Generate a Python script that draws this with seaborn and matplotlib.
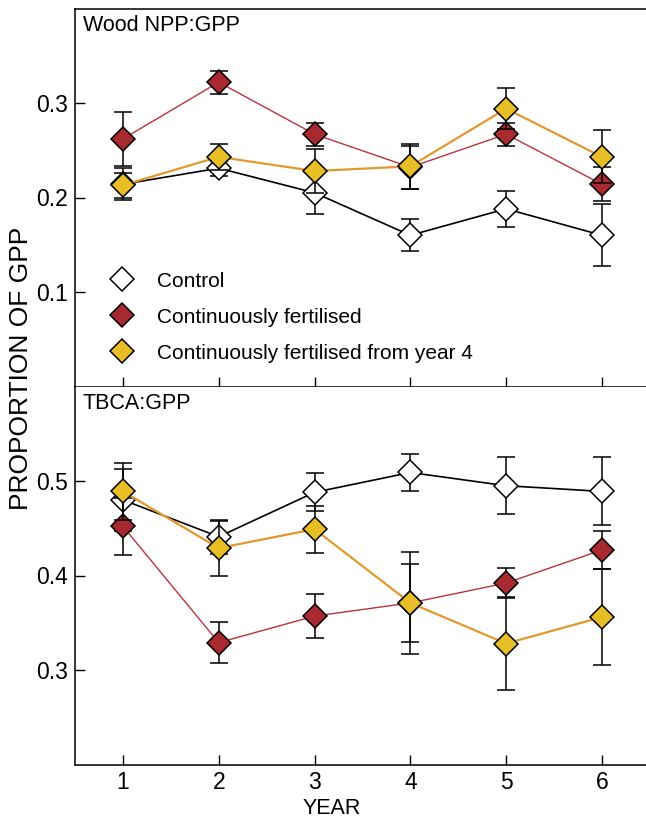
import numpy as np
import pandas as pd
import matplotlib
matplotlib.use("Agg")
import matplotlib.pyplot as plt
from matplotlib.lines import Line2D
import seaborn as sns

years = [1, 2, 3, 4, 5, 6]
series_names = ["Control", "Continuously fertilised", "Continuously fertilised from year 4"]

# Wood NPP:GPP
wood_control = [0.214, 0.231, 0.205, 0.160, 0.188, 0.160]
wood_control_err = [0.017, 0.008, 0.022, 0.017, 0.019, 0.033]
wood_fert = [0.262, 0.322, 0.267, 0.232, 0.267, 0.214]
wood_fert_err = [0.029, 0.012, 0.012, 0.023, 0.012, 0.018]
wood_fert4 = [0.213, 0.243, 0.228, 0.233, 0.294, 0.243]
wood_fert4_err = [0.013, 0.014, 0.023, 0.024, 0.022, 0.028]

# TBCA:GPP
tbca_control = [0.480, 0.441, 0.488, 0.509, 0.495, 0.489]
tbca_control_err = [0.033, 0.018, 0.020, 0.020, 0.030, 0.036]
tbca_fert = [0.452, 0.329, 0.357, 0.371, 0.392, 0.427]
tbca_fert_err = [0.030, 0.022, 0.023, 0.041, 0.016, 0.020]
tbca_fert4 = [0.489, 0.429, 0.449, 0.371, 0.328, 0.356]
tbca_fert4_err = [0.030, 0.029, 0.025, 0.054, 0.049, 0.051]

face_colors = ["white", "#A8292F", "#E8BE26"]
line_colors = ["black", "#B8343D", "#E3982E"]
line_widths = [1.2, 1.0, 1.6]

sns.set_theme(style="ticks")
plt.rcParams["font.family"] = ["Liberation Sans", "DejaVu Sans"]
plt.rcParams["text.color"] = "black"
plt.rcParams["axes.labelcolor"] = "black"

fig = plt.figure(figsize=(6.46, 8.18), dpi=100)
left, right = 75 / 646, 1.0
y_mid = 1 - 386.5 / 818
y_top = 1 - 8.5 / 818
y_bot = 1 - 764.5 / 818
ax1 = fig.add_axes([left, y_mid, right - left, y_top - y_mid])
ax2 = fig.add_axes([left, y_bot, right - left, y_mid - y_bot])

panels = [
    (ax1, [wood_control, wood_fert, wood_fert4], [wood_control_err, wood_fert_err, wood_fert4_err],
     "Wood NPP:GPP", (0.0, 0.4), [0.1, 0.2, 0.3]),
    (ax2, [tbca_control, tbca_fert, tbca_fert4], [tbca_control_err, tbca_fert_err, tbca_fert4_err],
     "TBCA:GPP", (0.2, 0.6), [0.3, 0.4, 0.5]),
]

MS = 12.5
for ax, vals, errs, label, ylim, yticks in panels:
    for i, name in enumerate(series_names):
        df = pd.DataFrame({"year": years, "value": vals[i], "err": errs[i]})
        ax.errorbar(df["year"], df["value"], yerr=df["err"], fmt="none", ecolor="black",
                    elinewidth=1.1, capsize=6.5, capthick=1.1, zorder=2 + i)
        sns.lineplot(data=df, x="year", y="value", ax=ax, color=line_colors[i],
                     linewidth=line_widths[i], marker="D", markersize=MS,
                     markerfacecolor=face_colors[i], markeredgecolor="black",
                     markeredgewidth=1.1, errorbar=None, zorder=3 + i)
    ax.set_xlim(0.5, 6.46)
    ax.set_ylim(*ylim)
    ax.set_yticks(yticks)
    ax.set_yticklabels([f"{t:.1f}" for t in yticks])
    ax.set_xticks(years)
    ax.set_xlabel("")
    ax.set_ylabel("")
    ax.spines["right"].set_visible(False)
    for s in ["left", "bottom", "top"]:
        ax.spines[s].set_linewidth(1.1)
        ax.spines[s].set_color("black")
    ax.tick_params(axis="both", direction="in", length=7, width=1.0, labelsize=16.5, pad=5,
                   colors="black")
    ax.tick_params(axis="x", top=False)
    ax.text(0.014, 0.982, label, transform=ax.transAxes, ha="left", va="top", fontsize=15.5,
            color="black")

ax1.tick_params(axis="x", labelbottom=False)
ax2.spines["top"].set_visible(False)

handles = [Line2D([], [], linestyle="none", marker="D", markersize=MS,
                  markerfacecolor=face_colors[i], markeredgecolor="black",
                  markeredgewidth=1.1) for i in range(3)]
leg = ax1.legend(handles, series_names, loc="lower left", bbox_to_anchor=(0.057, 0.063),
                 frameon=False, fontsize=15, handletextpad=0.95, labelspacing=0.82,
                 handlelength=1.4, borderaxespad=0, borderpad=0)
for t in leg.get_texts():
    t.set_color("black")

fig.text(21 / 646, 1 - 368 / 818, "PROPORTION OF GPP", rotation=90, ha="center",
         va="center", fontsize=19, color="black")
fig.text(332 / 646, 1 - 809 / 818, "YEAR", ha="center", va="center", fontsize=15.5,
         color="black")

fig.savefig("out.png", dpi=100)
